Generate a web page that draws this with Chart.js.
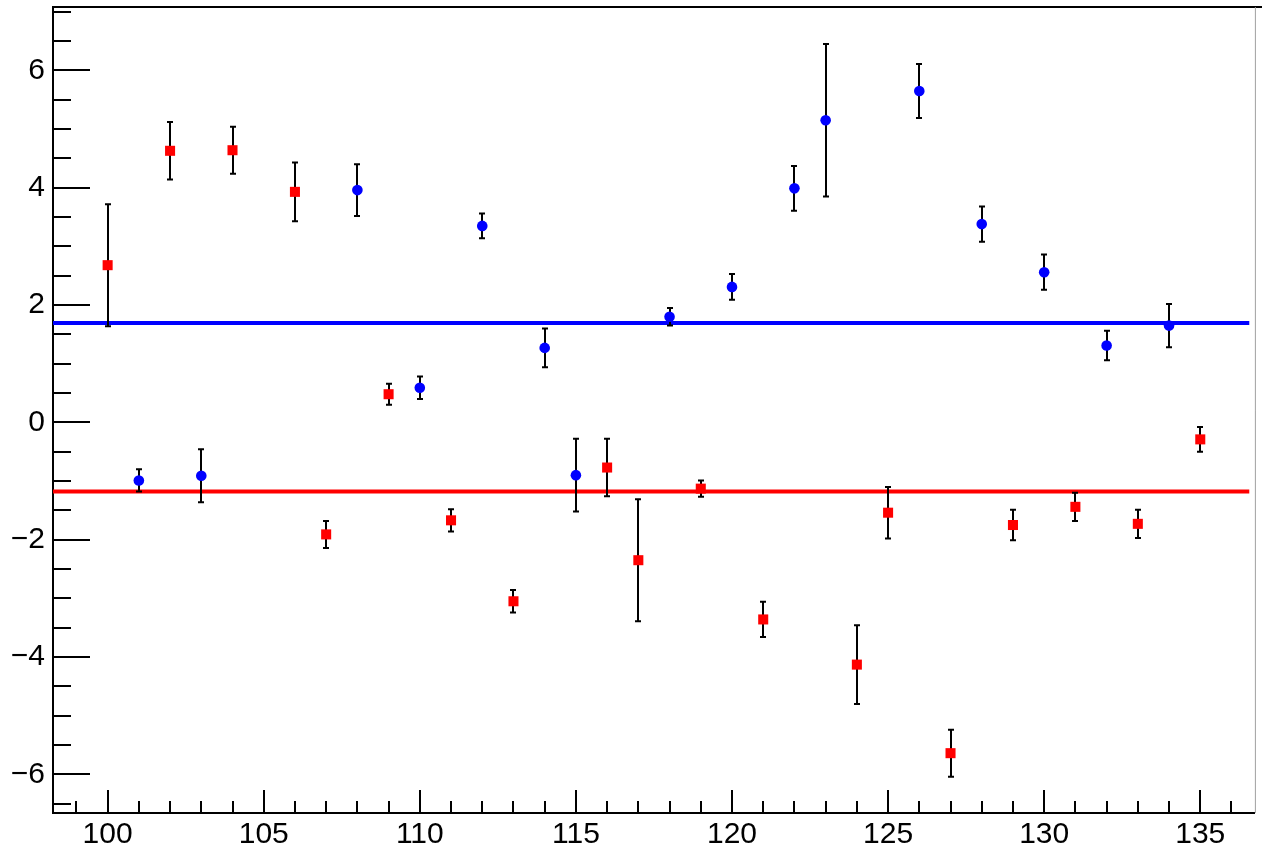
<!DOCTYPE html>
<html>
<head>
<meta charset="utf-8">
<script src="https://cdn.jsdelivr.net/npm/chart.js@4"></script>
<style>
  body { margin: 0; background: #fff; overflow: hidden; }
  canvas { display: block; }
</style>
</head>
<body>
<canvas id="c" width="1262" height="851"></canvas>
<script>
// blue circles
const blueX = [101, 103, 108, 110, 112, 114, 115, 118, 120, 122, 123, 126, 128, 130, 132, 134];
const blueY = [-0.99, -0.91, 3.96, 0.59, 3.35, 1.27, -0.90, 1.80, 2.31, 3.99, 5.15, 5.65, 3.38, 2.56, 1.31, 1.65];
const blueErr = [0.19, 0.45, 0.44, 0.19, 0.21, 0.33, 0.62, 0.15, 0.22, 0.38, 1.30, 0.46, 0.30, 0.30, 0.25, 0.37];

// red squares
const redX = [100, 102, 104, 106, 107, 109, 111, 113, 116, 117, 119, 121, 124, 125, 127, 129, 131, 133, 135];
const redY = [2.68, 4.63, 4.64, 3.93, -1.91, 0.48, -1.67, -3.05, -0.77, -2.35, -1.13, -3.36, -4.13, -1.54, -5.64, -1.75, -1.44, -1.73, -0.29];
const redErr = [1.04, 0.49, 0.40, 0.50, 0.23, 0.18, 0.19, 0.19, 0.49, 1.04, 0.14, 0.30, 0.67, 0.44, 0.40, 0.26, 0.24, 0.24, 0.21];

// constant fits
const blueFit = 1.695;
const redFit = -1.18;
const fitRange = [98.25, 136.57];

// axes
const xRange = [98.25, 136.75];
const yRange = [-6.66, 7.08];
const xTickLabels = [100, 105, 110, 115, 120, 125, 130, 135];
const yTickLabels = [-6, -4, -2, 0, 2, 4, 6];

const toPoints = (xs, ys) => xs.map((x, i) => ({ x: x, y: ys[i] }));

// error bars drawn just before each point dataset
const errorBars = {
  id: 'errorBars',
  beforeDatasetDraw(chart, args) {
    const ds = chart.data.datasets[args.index];
    if (!ds.errors) return;
    const ctx = chart.ctx;
    const xs = chart.scales.x, ys = chart.scales.y;
    ctx.save();
    ctx.strokeStyle = '#000';
    ctx.lineWidth = 2;
    ds.data.forEach((p, i) => {
      const px = Math.round(xs.getPixelForValue(p.x));
      const top = ys.getPixelForValue(p.y + ds.errors[i]);
      const bot = ys.getPixelForValue(p.y - ds.errors[i]);
      ctx.beginPath();
      ctx.moveTo(px, top);
      ctx.lineTo(px, bot);
      ctx.moveTo(px - 3, top);
      ctx.lineTo(px + 3, top);
      ctx.moveTo(px - 3, bot);
      ctx.lineTo(px + 3, bot);
      ctx.stroke();
    });
    ctx.restore();
  }
};

// ROOT style frame and inside ticks
const frameTicks = {
  id: 'frameTicks',
  afterDraw(chart) {
    const ctx = chart.ctx;
    const a = chart.chartArea;
    const xs = chart.scales.x, ys = chart.scales.y;
    ctx.save();
    ctx.strokeStyle = '#000';
    ctx.lineWidth = 2;
    ctx.beginPath();
    for (let v = -6.5; v <= 7.0001; v += 0.5) {
      const py = Math.round(ys.getPixelForValue(v));
      const len = (Math.abs(v % 2) < 0.001) ? 37 : 18;
      ctx.moveTo(a.left, py);
      ctx.lineTo(a.left + len, py);
    }
    for (let v = 99; v <= 136; v++) {
      const px = Math.round(xs.getPixelForValue(v));
      const len = (v % 5 === 0) ? 23 : 12;
      ctx.moveTo(px, a.bottom);
      ctx.lineTo(px, a.bottom - len);
    }
    ctx.moveTo(a.left, a.top);
    ctx.lineTo(chart.width, a.top);
    ctx.stroke();
    ctx.strokeStyle = '#a0a0a0';
    ctx.lineWidth = 1;
    ctx.beginPath();
    ctx.moveTo(a.right + 0.5, a.top);
    ctx.lineTo(a.right + 0.5, a.bottom);
    ctx.stroke();
    ctx.restore();
  }
};

const labelFont = { family: '"Liberation Sans", Arial, sans-serif', size: 30 };

new Chart(document.getElementById('c'), {
  type: 'scatter',
  data: {
    datasets: [
      {
        data: toPoints(blueX, blueY),
        errors: blueErr,
        pointStyle: 'circle',
        pointRadius: 5.3,
        backgroundColor: '#0000ff',
        borderWidth: 0,
        order: 1
      },
      {
        data: toPoints(redX, redY),
        errors: redErr,
        pointStyle: 'rect',
        pointRadius: 7.1,
        backgroundColor: '#ff0000',
        borderWidth: 0,
        order: 1
      },
      {
        type: 'line',
        data: fitRange.map(x => ({ x: x, y: blueFit })),
        borderColor: '#0000ff',
        borderWidth: 4,
        pointRadius: 0,
        order: 2
      },
      {
        type: 'line',
        data: fitRange.map(x => ({ x: x, y: redFit })),
        borderColor: '#ff0000',
        borderWidth: 4,
        pointRadius: 0,
        order: 2
      }
    ]
  },
  options: {
    responsive: false,
    animation: false,
    devicePixelRatio: 1,
    layout: { padding: { top: 7, right: 1, left: 0, bottom: 0 } },
    plugins: { legend: { display: false }, tooltip: { enabled: false } },
    scales: {
      x: {
        type: 'linear',
        min: xRange[0],
        max: xRange[1],
        afterBuildTicks: s => { s.ticks = xTickLabels.map(v => ({ value: v })); },
        afterFit: s => { s.height = 38; s.paddingLeft = 0; s.paddingRight = 0; },
        grid: { display: false, drawTicks: false },
        border: { display: true, color: '#000', width: 2 },
        ticks: { color: '#000', font: labelFont, padding: 4, maxRotation: 0, autoSkip: false }
      },
      y: {
        type: 'linear',
        min: yRange[0],
        max: yRange[1],
        afterBuildTicks: s => { s.ticks = yTickLabels.map(v => ({ value: v })); },
        afterFit: s => { s.width = 53; s.paddingTop = 0; s.paddingBottom = 0; },
        grid: { display: false, drawTicks: false },
        border: { display: true, color: '#000', width: 2 },
        ticks: {
          color: '#000',
          font: labelFont,
          padding: 8,
          callback: v => String(v).replace('-', '\u2212')
        }
      }
    }
  },
  plugins: [errorBars, frameTicks]
});
</script>
</body>
</html>
